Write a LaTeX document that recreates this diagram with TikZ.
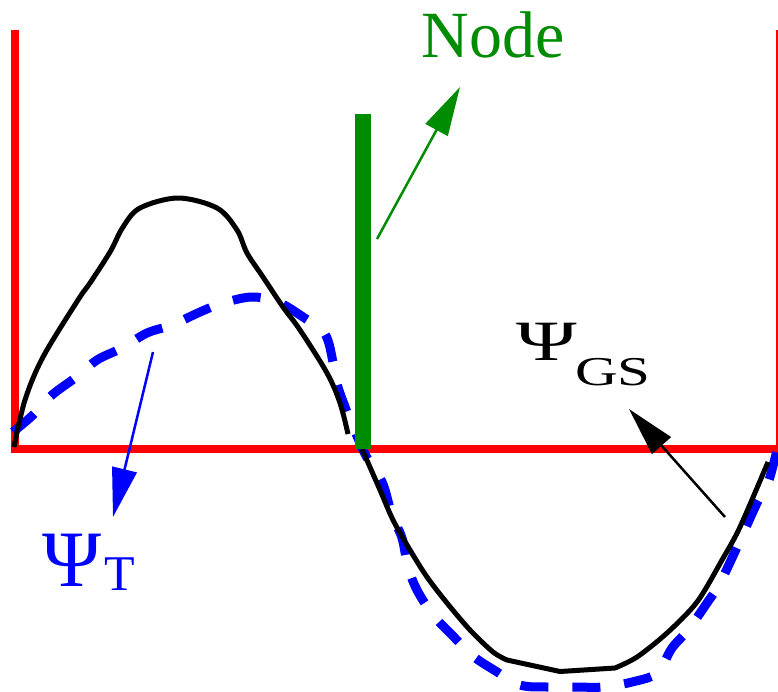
\documentclass[tikz,border=0pt]{standalone}
\usepackage{fontspec}
\setmainfont{Liberation Serif}
\usetikzlibrary{arrows.meta}
\definecolor{nodegreen}{RGB}{0,140,0}

\begin{document}
\begin{tikzpicture}[x=1pt, y=-1pt,
  axisline/.style={red, line width=8pt, line join=miter},
  wave/.style={line width=5pt, line join=round},
  trial/.style={blue, line width=9pt, dash pattern=on 28pt off 24pt},
  pointer/.style={line width=2.5pt, -{Triangle[length=49pt, width=25pt]}}]
\useasboundingbox (0,0) rectangle (778,691);
\draw[axisline] (14.5,30) -- (14.5,449) -- (778,449);
\draw[red, line width=1.5pt] (777.2,30) -- (777.2,449);
\draw[trial] plot[smooth, tension=0.55] coordinates {(13,432) (33,415) (52,395) (75,378) (97,360) (122,348) (147,333) (172,325) (200,312) (223,303) (252,297) (278,302) (303,317) (325,334) (333,362) (337,384) (347,412) (357,436) (364,452) (372,466) (383,484) (392,515) (402,538) (408,567) (417,590) (433,615) (452,635) (473,656) (494,670) (520,685) (547,687) (575,687) (603,687) (632,682) (657,673) (672,648) (688,630) (707,603) (720,583) (738,545) (757,503) (768,483) (777,450)};
\draw[wave] plot[smooth, tension=0.55] coordinates {(14,447) (25,400) (43,357) (78,300) (90,283) (110,252) (123,227) (140,208) (178,198) (217,208) (237,230) (247,253) (263,277) (283,307) (300,330) (327,373) (340,403) (348,434)};
\draw[wave] plot[smooth, tension=0.5] coordinates {(362,449) (380,490) (393,520) (410,550) (427,577) (447,603) (470,630) (493,652) (507,660)} -- (560,671.5) -- (615,668) --plot[smooth, tension=0.5] coordinates {(615,668) (637,657) (667,633) (697,602) (722,560) (740,527) (768,462)};
\draw[nodegreen, line width=16.6pt] (363,114) -- (363,449);
\coordinate (greenfoot) at (377,239);
\coordinate (greentip) at (460,87);
\coordinate (tfoot) at (153,352);
\coordinate (ttip) at (113,517);
\coordinate (gsfoot) at (725,517);
\coordinate (gstip) at (629,409);
\draw[pointer, nodegreen] (greenfoot) -- (greentip);
\draw[pointer, blue] (tfoot) -- (ttip);
\draw[pointer, black] (gsfoot) -- (gstip);
\node[nodegreen, font=\fontsize{66}{66}\selectfont, anchor=base] (nodelabel) at (493,57) {Node};
\node[blue, anchor=base west, inner sep=0pt] (psiT) at (42,586) {{\fontsize{80}{80}\selectfont Ψ}\kern3pt\raisebox{-4pt}{\fontsize{50}{50}\selectfont T}};
\node[anchor=base west, inner sep=0pt] (psiGS) at (516,360) {\scalebox{1.44}[1]{{\fontsize{57}{57}\selectfont Ψ}\kern-1pt\raisebox{-25pt}{\fontsize{41}{41}\selectfont GS}}};
\end{tikzpicture}
\end{document}
